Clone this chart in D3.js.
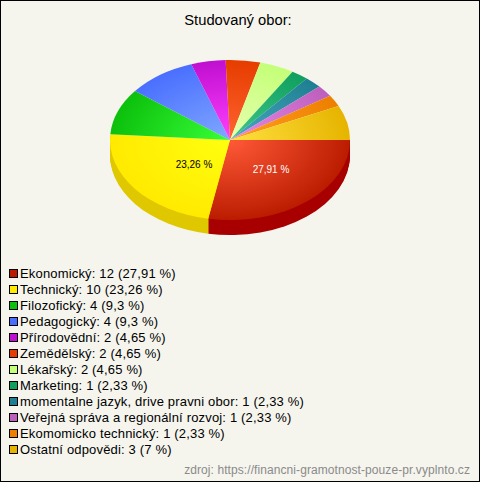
<!DOCTYPE html>
<html><head><meta charset="utf-8">
<script src="https://cdn.jsdelivr.net/npm/d3@7"></script>
<style>html,body{margin:0;padding:0;background:#fff}svg{display:block}text{font-family:"Liberation Sans",Arial,sans-serif}</style>
</head><body><svg id="c" width="480" height="482"></svg>
<script>
const categories=["Ekonomický","Technický","Filozofický","Pedagogický","Přírodovědní","Zemědělský","Lékařský","Marketing","momentalne jazyk, drive pravni obor","Veřejná správa a regionální rozvoj","Ekomomicko technický","Ostatní odpovědi"];
const values=[12,10,4,4,2,2,2,1,1,1,1,3];
const percents=["27,91","23,26","9,3","9,3","4,65","4,65","4,65","2,33","2,33","2,33","2,33","7"];
const outerColors=["#bb1c00","#ffea00","#0cc00c","#4a6fff","#c00fd0","#e63c00","#c4ff78","#0f9f5f","#1f7f92","#bd5fbd","#ee7f00","#e6b400"];
const innerColors=["#ff5a38","#ffff10","#38ff38","#80a8ff","#ff40ff","#ff6430","#e8ffb0","#40c888","#48a8c0","#e888e8","#ffa020","#ffe040"];
const sideColors=["#a80000","#e0c800"];
const pieLabels=[{i:0,text:"27,91 %",fill:"#fff",x:271,y:169},{i:1,text:"23,26 %",fill:"#000",x:194,y:164}];

const W=480,H=482,cx=230,cy=140,R=120,squash=2/3,depth=15;
const svg=d3.select("#c");
svg.append("rect").attr("x",.5).attr("y",.5).attr("width",W-1).attr("height",H-1).attr("fill","#f5f5ee").attr("stroke","#000");
svg.append("text").attr("x",238).attr("y",25).attr("text-anchor","middle").attr("font-size",14.75).attr("fill","#000").text("Studovaný obor:");

const slices=d3.pie().sort(null).startAngle(Math.PI/2).endAngle(Math.PI/2+2*Math.PI)(values);
const arc=d3.arc().innerRadius(0).outerRadius(R);
const defs=svg.append("defs");
outerColors.forEach((c,i)=>{
  const g=defs.append("radialGradient").attr("id","g"+i).attr("gradientUnits","userSpaceOnUse").attr("cx",0).attr("cy",0).attr("r",R);
  g.append("stop").attr("offset","0").attr("stop-color",innerColors[i]);
  g.append("stop").attr("offset","1").attr("stop-color",c);
});
// side wall, stacked from the bottom up
for(let d=depth;d>=1;d--){
  const g=svg.append("g").attr("transform",`translate(${cx},${cy+d}) scale(1,${squash})`);
  g.selectAll("path").data(slices.slice(0,2)).join("path").attr("d",arc).attr("fill",(p,i)=>sideColors[i]);
}
const face=svg.append("g").attr("transform",`translate(${cx},${cy}) scale(1,${squash})`);
face.selectAll("path").data(slices).join("path").attr("d",arc).attr("fill",(p,i)=>`url(#g${i})`);
svg.selectAll("text.pl").data(pieLabels).join("text").attr("class","pl").attr("x",d=>d.x).attr("y",d=>d.y+3.5).attr("text-anchor","middle").attr("font-size",10).attr("fill",d=>d.fill).text(d=>d.text);

const rows=d3.scalePoint().domain(d3.range(categories.length)).range([274,450]);
const leg=svg.selectAll("g.l").data(categories).join("g").attr("class","l").attr("transform",(d,i)=>`translate(0,${rows(i)})`);
leg.append("rect").attr("x",9.5).attr("y",-4.5).attr("width",8).attr("height",8).attr("fill",(d,i)=>outerColors[i]).attr("stroke","#000");
leg.append("text").attr("x",20).attr("y",4).attr("font-size",13).attr("letter-spacing",0.17).attr("fill","#000").text((d,i)=>`${d}: ${values[i]} (${percents[i]} %)`);
svg.append("text").attr("x",470).attr("y",474).attr("text-anchor","end").attr("font-size",12).attr("letter-spacing",0.08).attr("fill","#8a8a8a").text("zdroj: https://financni-gramotnost-pouze-pr.vyplnto.cz");
</script></body></html>
